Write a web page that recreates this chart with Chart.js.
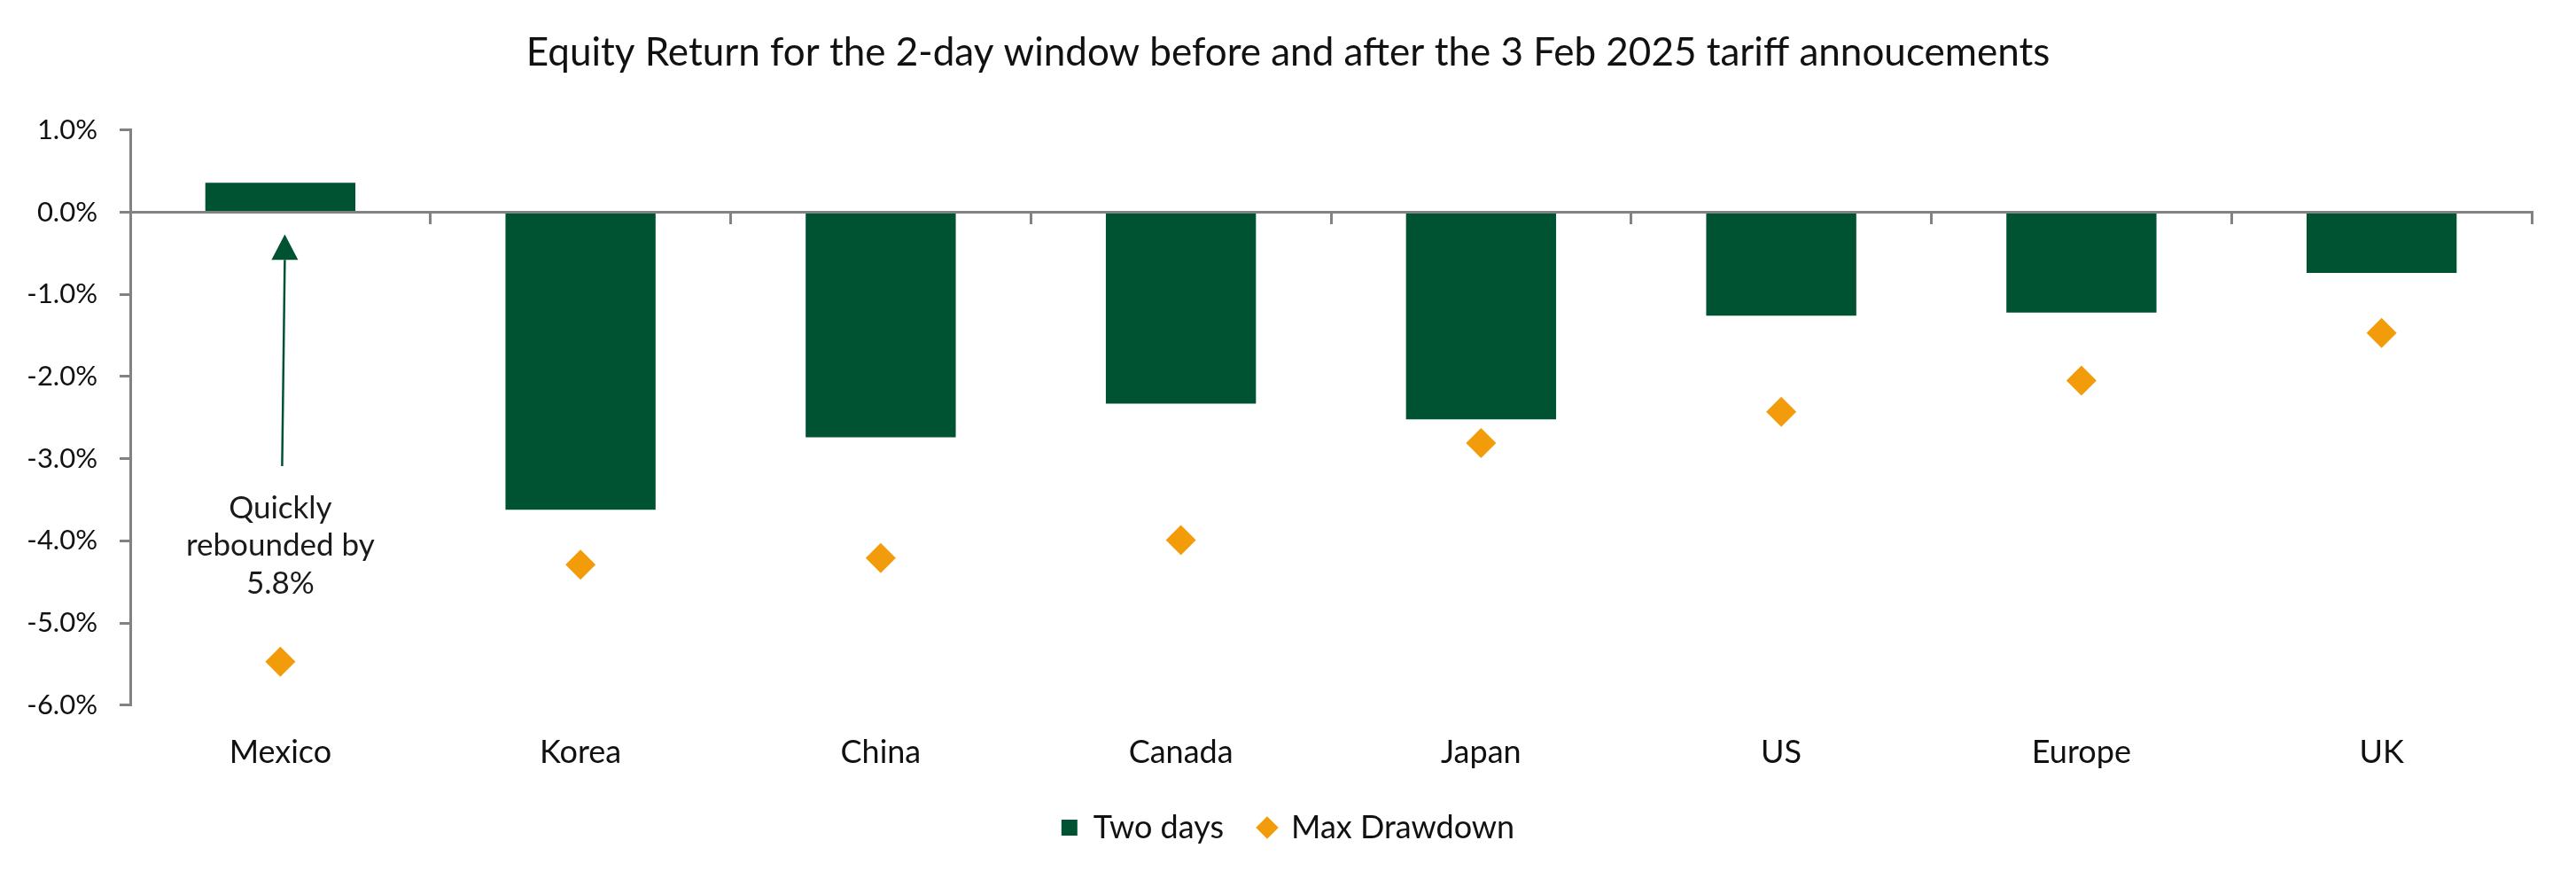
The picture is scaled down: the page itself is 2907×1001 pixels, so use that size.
<!DOCTYPE html>
<html>
<head>
<meta charset="utf-8">
<title>Equity Return around 3 Feb 2025 tariff announcements</title>
<script src="https://cdn.jsdelivr.net/npm/chart.js@4.4.1/dist/chart.umd.min.js"></script>
<style>
    html, body { margin: 0; padding: 0; background: #fff; }
    #wrap { width: 2907px; height: 1001px; }
</style>
</head>
<body>
<div id="wrap"><canvas id="chart"></canvas></div>
<script>
'use strict';

var countries = ['Mexico', 'Korea', 'China', 'Canada', 'Japan', 'US', 'Europe', 'UK'];
var twoDays = [0.36, -3.62, -2.74, -2.33, -2.52, -1.26, -1.22, -0.74];
var maxDrawdown = [-5.47, -4.29, -4.21, -3.99, -2.81, -2.43, -2.05, -1.47];
var yTicks = [1, 0, -1, -2, -3, -4, -5, -6];
var noteLines = ['Quickly', 'rebounded by', '5.8%'];

var GREEN = '#005332';
var ORANGE = '#F39C0B';
var AXIS = '#828282';
var FONT = 'Lato';

// arrow + text under the Mexico bar
var reboundNote = {
    id: 'reboundNote',
    afterLayout: function (chart) {
        // title and legend are centred on the whole page, not on the padded box
        var t = chart.titleBlock, l = chart.legend;
        if (t) { t.left += 25; t.right += 25; }
        if (l) {
            l.left += 25; l.right += 25;
            l.top -= 19; l.bottom -= 19;   // legend sits a bit closer to the labels
        }
    },
    afterDatasetsDraw: function (chart) {
        var ctx = chart.ctx;
        var x = chart.scales.x, y = chart.scales.y;
        var cx = x.getPixelForValue(0);
        var yTip = y.getPixelForValue(-0.27);
        var yBase = y.getPixelForValue(-0.58);
        var yEnd = y.getPixelForValue(-3.09);

        ctx.save();
        ctx.strokeStyle = GREEN;
        ctx.fillStyle = GREEN;
        ctx.lineWidth = 2.5;
        ctx.beginPath();
        ctx.moveTo(cx + 2, yEnd);
        ctx.lineTo(cx + 5, yBase);
        ctx.stroke();
        ctx.beginPath();
        ctx.moveTo(cx + 5, yTip);
        ctx.lineTo(cx + 5 - 15, yBase);
        ctx.lineTo(cx + 5 + 15, yBase);
        ctx.closePath();
        ctx.fill();

        ctx.fillStyle = '#1a1a1a';
        ctx.font = '35px ' + FONT;
        ctx.textAlign = 'center';
        ctx.textBaseline = 'middle';
        var lineVals = [-3.6, -4.06, -4.52];
        noteLines.forEach(function (t, i) {
            ctx.fillText(t, cx, y.getPixelForValue(lineVals[i]));
        });
        ctx.restore();
    }
};

var ctx = document.getElementById('chart');
var myChart = new Chart(ctx, {
    type: 'bar',
    data: {
        labels: countries,
        datasets: [
            {
                type: 'line',
                label: 'Max Drawdown',
                data: maxDrawdown,
                showLine: false,
                borderWidth: 0,
                borderColor: ORANGE,
                backgroundColor: ORANGE,
                pointStyle: 'rectRot',
                pointRadius: 17,
                pointHoverRadius: 17,
                pointBorderWidth: 0,
                order: 0
            },
            {
                label: 'Two days',
                data: twoDays,
                backgroundColor: GREEN,
                pointStyle: 'rect',
                barPercentage: 1,
                categoryPercentage: 0.5,
                order: 1
            }
        ]
    },
    options: {
        responsive: true,
        maintainAspectRatio: false,
        animation: false,
        layout: {
            padding: { left: 0, right: 50, top: 0, bottom: 20 }
        },
        plugins: {
            title: {
                display: true,
                text: 'Equity Return for the 2-day window before and after the 3 Feb 2025 tariff annoucements',
                color: '#111',
                font: { family: FONT, size: 44, weight: 'normal' },
                padding: { top: 33, bottom: 61 }
            },
            legend: {
                display: true,
                position: 'bottom',
                reverse: true,
                labels: {
                    usePointStyle: true,
                    boxWidth: 18,
                    boxHeight: 18,
                    padding: 40,
                    color: '#111',
                    font: { family: FONT, size: 36 }
                }
            },
            tooltip: { enabled: false }
        },
        scales: {
            x: {
                position: 'bottom',
                grid: { display: false },
                border: { display: false },
                ticks: {
                    color: '#111',
                    padding: 24,
                    font: { family: FONT, size: 36 }
                }
            },
            x2: {
                type: 'category',
                labels: countries,
                offset: true,
                position: { y: 0 },
                grid: {
                    offset: true,
                    drawOnChartArea: false,
                    drawTicks: true,
                    tickLength: 12,
                    color: AXIS,
                    lineWidth: 3
                },
                border: { display: true, color: AXIS, width: 3 },
                ticks: { display: false }
            },
            y: {
                min: -6,
                max: 1,
                afterFit: function (scale) { scale.width = 147; },
                afterBuildTicks: function (scale) {
                    scale.ticks = yTicks.map(function (v) { return { value: v }; });
                },
                grid: {
                    drawOnChartArea: false,
                    drawTicks: true,
                    tickLength: 12,
                    color: AXIS,
                    lineWidth: 3
                },
                border: { display: true, color: AXIS, width: 3 },
                ticks: {
                    color: '#111',
                    padding: 25,
                    font: { family: FONT, size: 31 },
                    callback: function (v) { return Number(v).toFixed(1) + '%'; }
                }
            }
        }
    },
    plugins: [reboundNote]
});
</script>
</body>
</html>
